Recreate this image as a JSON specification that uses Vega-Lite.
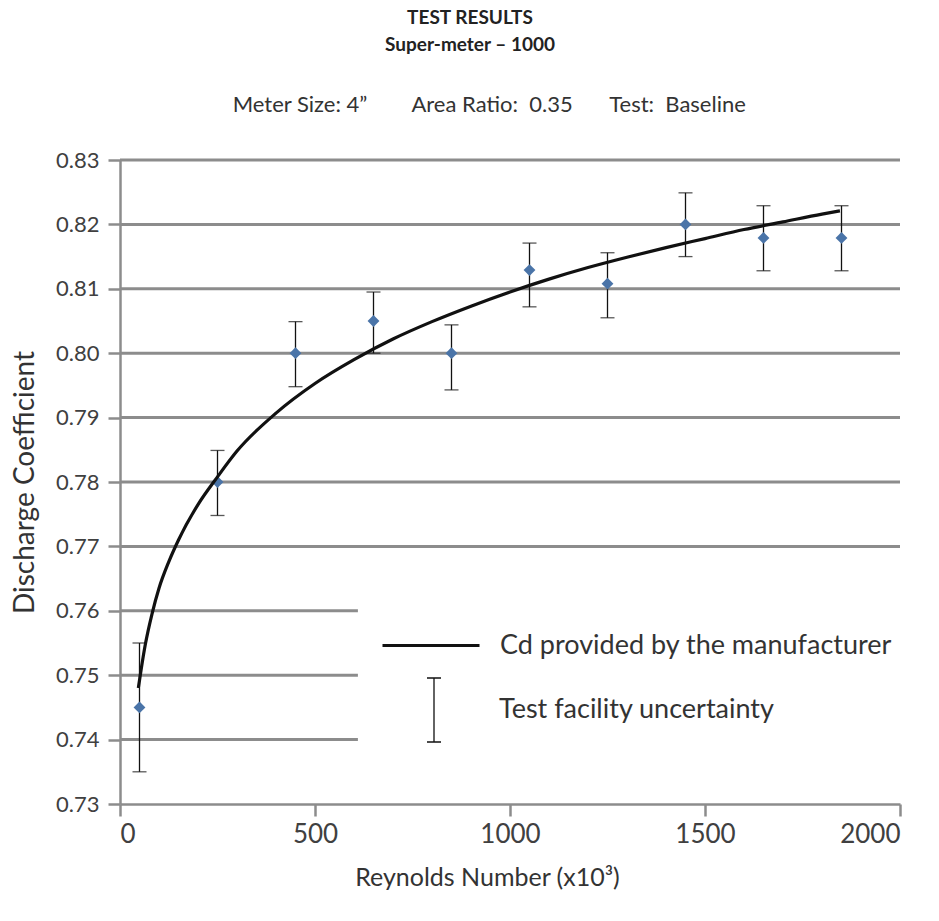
{
  "$schema": "https://vega.github.io/schema/vega-lite/v6.json",
  "width": 780,
  "height": 644,
  "autosize": "none",
  "padding": {"left": 120, "top": 160, "right": 39, "bottom": 117},
  "background": "white",
  "title": {
    "text": ["TEST RESULTS", "Super-meter – 1000"],
    "subtitle": "\u2800\u00a0\u00a0\u00a0\u00a0Meter Size: 4”\u00a0\u00a0\u00a0\u00a0\u00a0\u00a0\u00a0\u00a0Area Ratio:\u00a0\u00a00.35\u00a0\u00a0\u00a0\u00a0\u00a0\u00a0\u2009Test:\u00a0\u00a0Baseline",
    "anchor": "middle",
    "dx": -40,
    "offset": 33,
    "font": "Lato",
    "fontSize": 19,
    "fontWeight": "bold",
    "color": "#222222",
    "lineHeight": 27,
    "subtitleFont": "Lato",
    "subtitleFontSize": 22,
    "subtitleColor": "#333333",
    "subtitlePadding": 40
  },
  "config": {
    "view": {"stroke": null},
    "axis": {
      "domainColor": "#8c8c8c",
      "domainWidth": 2.5,
      "tickColor": "#8c8c8c",
      "tickWidth": 2.5,
      "tickSize": 12,
      "grid": false,
      "labelFont": "Lato",
      "titleFont": "Lato",
      "labelColor": "#404040",
      "titleColor": "#333333",
      "titleFontWeight": "normal"
    }
  },
  "datasets": {
    "grid": [
      {"y": 0.74, "xa": 0, "xb": 610},
      {"y": 0.75, "xa": 0, "xb": 610},
      {"y": 0.76, "xa": 0, "xb": 610},
      {"y": 0.77, "xa": 0, "xb": 2000},
      {"y": 0.78, "xa": 0, "xb": 2000},
      {"y": 0.79, "xa": 0, "xb": 2000},
      {"y": 0.80, "xa": 0, "xb": 2000},
      {"y": 0.81, "xa": 0, "xb": 2000},
      {"y": 0.82, "xa": 0, "xb": 2000},
      {"y": 0.83, "xa": 0, "xb": 2000}
    ],
    "points": [
      {"re": 50, "cd": 0.745, "lo": 0.735, "hi": 0.755},
      {"re": 250, "cd": 0.780, "lo": 0.7748, "hi": 0.7849},
      {"re": 450, "cd": 0.800, "lo": 0.7948, "hi": 0.8049},
      {"re": 650, "cd": 0.805, "lo": 0.8000, "hi": 0.8095},
      {"re": 850, "cd": 0.800, "lo": 0.7943, "hi": 0.8044},
      {"re": 1050, "cd": 0.8129, "lo": 0.8072, "hi": 0.8171},
      {"re": 1250, "cd": 0.8108, "lo": 0.8055, "hi": 0.8156},
      {"re": 1450, "cd": 0.8200, "lo": 0.8150, "hi": 0.8249},
      {"re": 1650, "cd": 0.8179, "lo": 0.8128, "hi": 0.8229},
      {"re": 1850, "cd": 0.8179, "lo": 0.8128, "hi": 0.8229}
    ],
    "curve": [
      {"re": 47, "cd": 0.748},
      {"re": 55, "cd": 0.7512},
      {"re": 65, "cd": 0.7548},
      {"re": 82, "cd": 0.7595},
      {"re": 100, "cd": 0.7635},
      {"re": 125, "cd": 0.7676},
      {"re": 150, "cd": 0.7710},
      {"re": 200, "cd": 0.7765},
      {"re": 250, "cd": 0.7808},
      {"re": 300, "cd": 0.7848},
      {"re": 400, "cd": 0.7907},
      {"re": 500, "cd": 0.7953},
      {"re": 600, "cd": 0.7990},
      {"re": 700, "cd": 0.8022},
      {"re": 800, "cd": 0.8049},
      {"re": 900, "cd": 0.8073},
      {"re": 1000, "cd": 0.8095},
      {"re": 1100, "cd": 0.8115},
      {"re": 1200, "cd": 0.8133},
      {"re": 1300, "cd": 0.8149},
      {"re": 1400, "cd": 0.8164},
      {"re": 1500, "cd": 0.8178},
      {"re": 1600, "cd": 0.8192},
      {"re": 1700, "cd": 0.8204},
      {"re": 1800, "cd": 0.8216},
      {"re": 1846, "cd": 0.8221}
    ]
  },
  "layer": [
    {
      "data": {"name": "grid"},
      "mark": {"type": "rule", "color": "#8c8c8c", "strokeWidth": 3},
      "encoding": {
        "x": {
          "field": "xa", "type": "quantitative",
          "scale": {"domain": [0, 2000], "nice": false},
          "title": "Reynolds Number (x10³)",
          "axis": {"values": [0, 500, 1000, 1500, 2000], "format": "d", "labelFontSize": 26, "labelPadding": 5, "titleFontSize": 25, "titlePadding": 18, "titleX": 367}
        },
        "x2": {"field": "xb"},
        "y": {
          "field": "y", "type": "quantitative",
          "scale": {"domain": [0.73, 0.83], "nice": false, "zero": false},
          "title": "Discharge Coefficient",
          "axis": {"values": [0.73, 0.74, 0.75, 0.76, 0.77, 0.78, 0.79, 0.80, 0.81, 0.82, 0.83], "format": ".2f", "labelFontSize": 22, "labelPadding": 9, "titleFontSize": 28, "titlePadding": 16}
        }
      }
    },
    {
      "data": {"name": "points"},
      "mark": {"type": "rule", "color": "#111111", "strokeWidth": 1.3},
      "encoding": {
        "x": {"field": "re", "type": "quantitative", "title": "Reynolds Number (x10³)"},
        "y": {"field": "lo", "type": "quantitative", "title": "Discharge Coefficient"},
        "y2": {"field": "hi"},
        "opacity": {
          "datum": "Test facility uncertainty", "type": "nominal",
          "scale": {"range": [1]},
          "legend": {
            "orient": "none", "legendX": 281, "legendY": 517, "padding": 0, "title": null,
            "symbolType": "M-0.22,-1H0.22M0,-1V1M-0.22,1H0.22",
            "symbolSize": 4096, "symbolStrokeColor": "#111111", "symbolFillColor": "transparent",
            "symbolStrokeWidth": 1.3, "labelOffset": 32, "labelFont": "Lato", "labelFontSize": 27, "labelColor": "#333333", "labelLimit": 600
          }
        }
      }
    },
    {
      "data": {"name": "points"},
      "mark": {"type": "tick", "orient": "horizontal", "color": "#111111", "thickness": 1.3, "size": 14},
      "encoding": {
        "x": {"field": "re", "type": "quantitative", "title": "Reynolds Number (x10³)"},
        "y": {"field": "lo", "type": "quantitative", "title": "Discharge Coefficient"}
      }
    },
    {
      "data": {"name": "points"},
      "mark": {"type": "tick", "orient": "horizontal", "color": "#111111", "thickness": 1.3, "size": 14},
      "encoding": {
        "x": {"field": "re", "type": "quantitative", "title": "Reynolds Number (x10³)"},
        "y": {"field": "hi", "type": "quantitative", "title": "Discharge Coefficient"}
      }
    },
    {
      "data": {"name": "points"},
      "mark": {"type": "point", "shape": "diamond", "filled": true, "color": "#4a74a8", "opacity": 1, "size": 140},
      "encoding": {
        "x": {"field": "re", "type": "quantitative", "title": "Reynolds Number (x10³)"},
        "y": {"field": "cd", "type": "quantitative", "title": "Discharge Coefficient"}
      }
    },
    {
      "data": {"name": "curve"},
      "mark": {"type": "line", "interpolate": "monotone", "strokeWidth": 3.2},
      "encoding": {
        "x": {"field": "re", "type": "quantitative", "title": "Reynolds Number (x10³)"},
        "y": {"field": "cd", "type": "quantitative", "title": "Discharge Coefficient"},
        "stroke": {
          "datum": "Cd provided by the manufacturer", "type": "nominal",
          "scale": {"range": ["#111111"]},
          "legend": {
            "orient": "none", "legendX": 261, "legendY": 435.5, "padding": 0, "title": null,
            "symbolType": "stroke", "symbolSize": 9409, "symbolStrokeWidth": 3,
            "labelOffset": 19, "labelFont": "Lato", "labelFontSize": 27, "labelColor": "#333333", "labelLimit": 600
          }
        }
      }
    }
  ]
}
